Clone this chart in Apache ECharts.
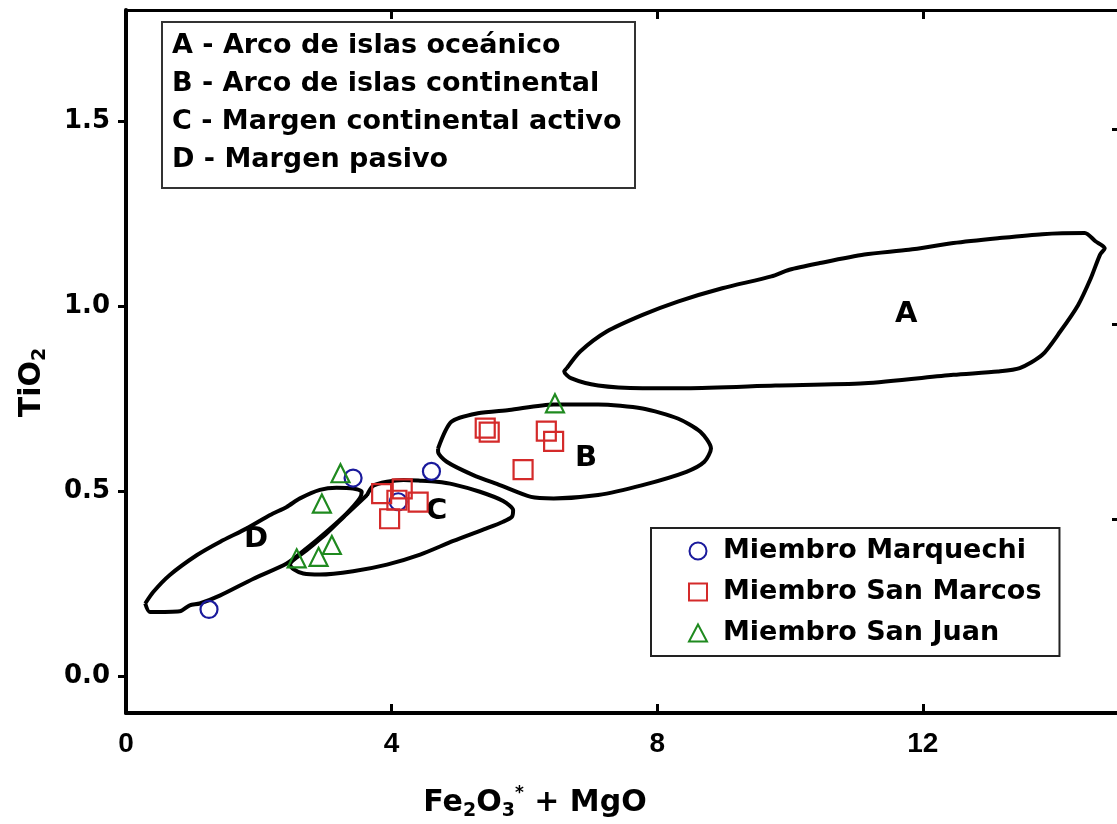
<!DOCTYPE html>
<html>
<head>
<meta charset="utf-8">
<script src="https://cdn.jsdelivr.net/npm/echarts@6/dist/echarts.min.js"></script>
<style>
html,body{margin:0;padding:0;background:#fff;}
#c{width:1117px;height:824px;}
</style>
</head>
<body>
<div id="c"></div>
<script>
// ---- tick values ----
const xTicks = [0, 4, 8, 12];
const yTicks = [0, 0.5, 1.0, 1.5];
const topTicks = [0, 4, 8, 12];
const rightTicks = [0.425, 0.95, 1.478];

// ---- tectonic-setting fields (Fe2O3*+MgO, TiO2) ----
const regionA = [[6.64,0.832],[6.84,0.877],[7.24,0.931],[7.78,0.976],[8.31,1.012],[8.98,1.048],[9.72,1.080],[9.99,1.098],[10.45,1.116],[11.12,1.139],[11.79,1.152],[12.46,1.170],[13.13,1.183],[13.80,1.194],[14.44,1.197],[14.60,1.175],[14.74,1.156],[14.67,1.139],[14.53,1.075],[14.34,1.003],[14.07,0.931],[13.80,0.868],[13.46,0.832],[13.13,0.823],[12.46,0.814],[11.12,0.791],[9.78,0.785],[8.44,0.778],[7.78,0.778],[7.11,0.785],[6.70,0.805],[6.60,0.823],[6.64,0.832]];
const regionB = [[4.70,0.615],[4.90,0.687],[5.30,0.710],[5.77,0.719],[6.44,0.734],[7.11,0.734],[7.78,0.723],[8.31,0.696],[8.65,0.660],[8.81,0.615],[8.71,0.579],[8.44,0.552],[7.78,0.516],[7.11,0.489],[6.44,0.480],[6.10,0.484],[5.63,0.516],[5.23,0.543],[4.83,0.579],[4.70,0.606],[4.70,0.615]];
const regionC = [[3.63,0.489],[3.72,0.514],[3.93,0.525],[4.18,0.530],[4.43,0.528],[4.68,0.525],[4.93,0.518],[5.33,0.498],[5.68,0.473],[5.83,0.448],[5.81,0.430],[5.68,0.417],[5.43,0.399],[4.93,0.365],[4.43,0.328],[3.93,0.301],[3.42,0.283],[2.92,0.274],[2.67,0.277],[2.52,0.289],[2.47,0.301],[2.72,0.340],[3.02,0.385],[3.32,0.437],[3.63,0.489]];
const regionD = [[0.29,0.196],[0.36,0.173],[0.81,0.175],[0.96,0.191],[1.11,0.196],[1.42,0.218],[1.92,0.263],[2.42,0.304],[2.72,0.345],[3.02,0.390],[3.32,0.439],[3.52,0.480],[3.55,0.498],[3.42,0.507],[3.17,0.509],[2.92,0.503],[2.62,0.480],[2.42,0.457],[2.17,0.435],[1.82,0.399],[1.42,0.363],[1.07,0.327],[0.66,0.273],[0.41,0.227],[0.29,0.196]];
const regionLabels = [[11.75, 0.977, 'A'], [6.93, 0.587, 'B'], [4.68, 0.444, 'C'], [1.96, 0.368, 'D']];

// ---- samples ----
const seriesNames = ['Miembro Marquechi', 'Miembro San Marcos', 'Miembro San Juan'];
const marquechi = [[1.25,0.18],[3.42,0.535],[4.60,0.553],[4.10,0.471]];
const sanMarcos = [[3.85,0.493],[3.97,0.425],[4.16,0.506],[4.08,0.475],[4.40,0.470],[5.41,0.670],[5.47,0.659],[6.33,0.662],[6.44,0.634],[5.98,0.558]];
const sanJuan = [[6.46,0.737],[3.23,0.548],[2.95,0.466],[2.57,0.318],[2.90,0.322],[3.10,0.354]];

const fieldsText = [
  'A - Arco de islas oceánico',
  'B - Arco de islas continental',
  'C - Margen continental activo',
  'D - Margen pasivo'
];

const FONT = 'DejaVu Sans';
const chart = echarts.init(document.getElementById('c'), null, {renderer: 'canvas'});

function region(data) {
  return {
    type: 'line', data: data, symbol: 'none', smooth: 0.25, silent: true,
    lineStyle: {color: '#000', width: 4}, z: 2
  };
}
function pts(name, data, symbol, color, size) {
  return {
    name: name, type: 'scatter', data: data, symbol: symbol, symbolSize: size, z: 5,
    itemStyle: {color: 'rgba(255,255,255,0)', borderColor: color, borderWidth: 2.2, opacity: 1}
  };
}

const option = {
  backgroundColor: '#fff',
  animation: false,
  title: {
    text: fieldsText.join('\n'),
    left: 162, top: 22,
    padding: [5, 14, 9, 10],
    borderColor: '#333', borderWidth: 2,
    backgroundColor: '#fff',
    textStyle: {fontFamily: FONT, fontSize: 27, fontWeight: 'bold', color: '#000', lineHeight: 38}
  },
  legend: {
    data: seriesNames,
    orient: 'vertical',
    left: 651, top: 528,
    padding: [8, 18, 8, 37],
    itemWidth: 18, itemHeight: 17, itemGap: 11,
    borderColor: '#222', borderWidth: 2, backgroundColor: '#fff',
    textStyle: {fontFamily: FONT, fontSize: 27, fontWeight: 'bold', color: '#000', lineHeight: 30, padding: [0, 0, 0, 11]}
  },
  grid: {left: 126, right: -5, top: 10, bottom: 111, containLabel: false, outerBoundsMode: 'none'},
  xAxis: [{
    type: 'value', min: 0, max: 15, position: 'bottom',
    name: '{n|Fe}{sub|2}{n|O}{sub|3}{sup|*}{n| + MgO}',
    nameLocation: 'middle', nameGap: 72,
    nameTextStyle: {
      padding: [0, 178, 0, 0],
      rich: {
        n: {fontFamily: FONT, fontSize: 30, fontWeight: 'bold', color: '#000', lineHeight: 36, verticalAlign: 'middle'},
        sub: {fontFamily: FONT, fontSize: 19, fontWeight: 'bold', color: '#000', lineHeight: 16, verticalAlign: 'bottom'},
        sup: {fontFamily: FONT, fontSize: 17, fontWeight: 'bold', color: '#000', lineHeight: 14, verticalAlign: 'top'}
      }
    },
    axisLine: {show: true, onZero: false, lineStyle: {color: '#000', width: 4}},
    axisTick: {show: true, inside: true, length: 9, customValues: xTicks, lineStyle: {color: '#000', width: 3}},
    axisLabel: {show: true, customValues: xTicks, margin: 17, fontFamily: 'Liberation Sans', fontSize: 28, fontWeight: 'bold', color: '#000'},
    splitLine: {show: false}
  }, {
    type: 'value', min: 0, max: 15, position: 'top',
    axisLine: {show: true, onZero: false, lineStyle: {color: '#000', width: 3}},
    axisTick: {show: true, inside: true, length: 9, customValues: topTicks, lineStyle: {color: '#000', width: 3}},
    axisLabel: {show: false},
    splitLine: {show: false}
  }],
  yAxis: [{
    type: 'value', min: -0.1, max: 1.8, position: 'left',
    name: '{n|TiO}{sub|2}',
    nameLocation: 'middle', nameGap: 76, nameRotate: 90,
    nameTextStyle: {
      padding: [0, 42, 0, 0],
      rich: {
        n: {fontFamily: FONT, fontSize: 30, fontWeight: 'bold', color: '#000', lineHeight: 36, verticalAlign: 'middle'},
        sub: {fontFamily: FONT, fontSize: 19, fontWeight: 'bold', color: '#000', lineHeight: 16, verticalAlign: 'bottom'}
      }
    },
    axisLine: {show: true, onZero: false, lineStyle: {color: '#000', width: 4}},
    axisTick: {show: true, inside: false, length: 8, customValues: yTicks, lineStyle: {color: '#000', width: 3}},
    axisLabel: {show: true, customValues: yTicks, margin: 16, fontFamily: FONT, fontSize: 26, fontWeight: 'bold', color: '#000',
      formatter: v => v.toFixed(1)},
    splitLine: {show: false}
  }, {
    type: 'value', min: -0.1, max: 1.8, position: 'right',
    axisLine: {show: true, onZero: false, lineStyle: {color: '#000', width: 3}},
    axisTick: {show: true, inside: true, length: 10, customValues: rightTicks, lineStyle: {color: '#000', width: 3}},
    axisLabel: {show: false},
    splitLine: {show: false}
  }],
  series: [
    region(regionA), region(regionB), region(regionC), region(regionD),
    {
      type: 'scatter', data: regionLabels, symbolSize: 0, silent: true, z: 4,
      itemStyle: {opacity: 1},
      label: {show: true, position: 'inside', formatter: p => p.value[2],
        fontFamily: FONT, fontSize: 29, fontWeight: 'bold', color: '#000', opacity: 1}
    },
    pts(seriesNames[0], marquechi, 'circle', '#1a1a9c', 17),
    pts(seriesNames[1], sanMarcos, 'rect', '#d42a2a', 19),
    pts(seriesNames[2], sanJuan, 'triangle', '#1f8a1f', 18)
  ]
};
chart.setOption(option);
</script>
</body>
</html>
